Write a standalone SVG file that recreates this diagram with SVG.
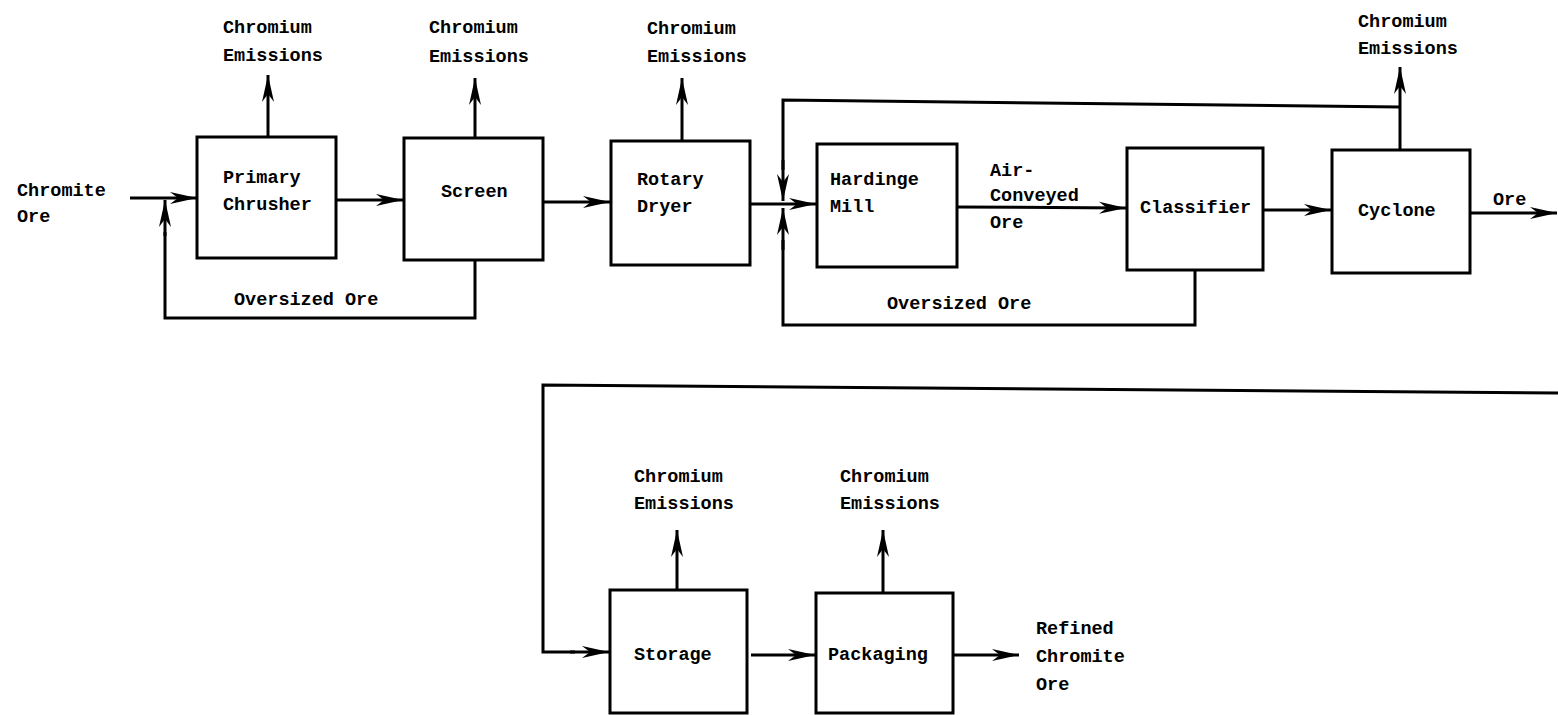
<svg xmlns="http://www.w3.org/2000/svg" width="1558" height="715" viewBox="0 0 1558 715">
<style>
.box{fill:#fff;stroke:#000;stroke-width:3}
.ln{fill:none;stroke:#000;stroke-width:3}
.ar{fill:none;stroke:#000;stroke-width:3;marker-end:url(#ah)}
text{font-family:"Liberation Mono","DejaVu Sans Mono",monospace;font-weight:bold;font-size:18.5px;fill:#000}
</style>
<defs>
<marker id="ah" markerUnits="userSpaceOnUse" markerWidth="32" markerHeight="16" viewBox="-30 -8 32 16" refX="0" refY="0" orient="auto">
<path d="M0,0 L-27,-6 L-19,0 L-27,6 Z" fill="#000"/>
</marker>
</defs>
<g id="connectors">
<path class="ar" d="M130,198 L197,198"/>
<path class="ln" d="M475,260 L475,318 L165,318 L165,232"/>
<path class="ar" d="M165,236 L165,200"/>
<path class="ar" d="M336,200 L403,200"/>
<path class="ar" d="M268,137 L268,75"/>
<path class="ar" d="M475,137 L475,78"/>
<path class="ar" d="M543,202 L610,202"/>
<path class="ar" d="M682,141 L682,78"/>
<path class="ar" d="M750,204 L816,204"/>
<path class="ln" d="M1400,107 L783,100 L783,170"/>
<path class="ar" d="M783,160 L783,201"/>
<path class="ln" d="M1195,270 L1195,325 L783,325 L783,240"/>
<path class="ar" d="M783,250 L783,208"/>
<path class="ar" d="M957,207 L1126,208"/>
<path class="ar" d="M1263,210 L1331,210"/>
<path class="ar" d="M1400,150 L1400,67"/>
<path class="ar" d="M1470,213 L1557,213"/>
<path class="ln" d="M1558,393 L543,385 L543,652 L575,652"/>
<path class="ar" d="M570,652 L609,652"/>
<path class="ar" d="M677,590 L677,530"/>
<path class="ar" d="M751,655 L815,655"/>
<path class="ar" d="M883,593 L883,530"/>
<path class="ar" d="M953,655 L1019,655"/>
</g>
<g id="chromite-ore"><text x="17" y="196">Chromite</text><text x="17" y="222">Ore</text></g>
<g id="primary-chrusher"><rect class="box" x="197" y="137" width="139" height="121"/><text x="223" y="183">Primary</text><text x="223" y="210">Chrusher</text></g>
<g id="em1"><text x="223" y="33">Chromium</text><text x="223" y="61">Emissions</text></g>
<g id="screen"><rect class="box" x="404" y="138" width="139" height="122"/><text x="441" y="197">Screen</text></g>
<g id="em2"><text x="429" y="33">Chromium</text><text x="429" y="62">Emissions</text></g>
<g id="oversized1"><text x="234" y="305">Oversized Ore</text></g>
<g id="rotary-dryer"><rect class="box" x="611" y="141" width="139" height="124"/><text x="637" y="185">Rotary</text><text x="637" y="212">Dryer</text></g>
<g id="em3"><text x="647" y="34">Chromium</text><text x="647" y="62">Emissions</text></g>
<g id="hardinge-mill"><rect class="box" x="817" y="144" width="140" height="123"/><text x="830" y="185">Hardinge</text><text x="830" y="212">Mill</text></g>
<g id="air-conveyed"><text x="990" y="176">Air-</text><text x="990" y="201">Conveyed</text><text x="990" y="228">Ore</text></g>
<g id="oversized2"><text x="887" y="309">Oversized Ore</text></g>
<g id="classifier"><rect class="box" x="1127" y="148" width="136" height="122"/><text x="1140" y="213">Classifier</text></g>
<g id="cyclone"><rect class="box" x="1332" y="150" width="138" height="123"/><text x="1358" y="216">Cyclone</text></g>
<g id="em4"><text x="1358" y="27">Chromium</text><text x="1358" y="54">Emissions</text></g>
<g id="ore-out"><text x="1493" y="205">Ore</text></g>
<g id="storage"><rect class="box" x="610" y="590" width="137" height="123"/><text x="634" y="660">Storage</text></g>
<g id="em5"><text x="634" y="482">Chromium</text><text x="634" y="509">Emissions</text></g>
<g id="packaging"><rect class="box" x="816" y="593" width="137" height="120"/><text x="828" y="660">Packaging</text></g>
<g id="em6"><text x="840" y="482">Chromium</text><text x="840" y="509">Emissions</text></g>
<g id="refined"><text x="1036" y="634">Refined</text><text x="1036" y="662">Chromite</text><text x="1036" y="690">Ore</text></g>
</svg>
